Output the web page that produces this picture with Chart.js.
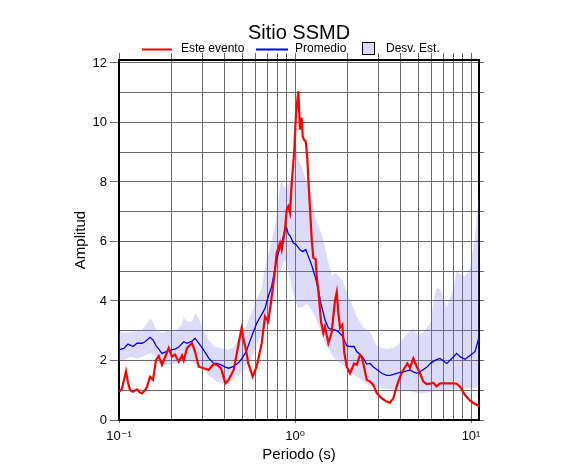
<!DOCTYPE html>
<html>
<head>
<meta charset="utf-8">
<title>Sitio SSMD</title>
<script src="https://cdn.jsdelivr.net/npm/chart.js@4.4.1/dist/chart.umd.min.js"></script>
<style>
    html, body { margin: 0; padding: 0; background: #fff; }
    canvas { display: block; }
</style>
</head>
<body>
<canvas id="chart" width="586" height="475" style="width:586px;height:475px"></canvas>
<script>
/* ============================================
   Sitio SSMD — spectral ratio vs period
   ============================================ */

// Este evento (red)
const redPeriod = [
    0.100, 0.104, 0.1068, 0.1096, 0.1125, 0.1156, 0.1201, 0.1266, 0.1317, 0.1351,
    0.1406, 0.1443, 0.1501, 0.1560, 0.1623, 0.1681, 0.1754, 0.1826, 0.1916, 0.2000,
    0.2081, 0.2184, 0.2280, 0.2331, 0.2434, 0.2599, 0.2704, 0.2837, 0.3030, 0.3233,
    0.3452, 0.3604, 0.3798, 0.4018, 0.4201, 0.4484, 0.4787, 0.4967, 0.5111, 0.5288,
    0.5429, 0.5747, 0.6059, 0.6467, 0.6754, 0.7051, 0.7374, 0.7698, 0.7872, 0.8218,
    0.8403, 0.8773, 0.8972, 0.9161, 0.9367, 0.9578, 0.9780, 0.9909, 1.0132, 1.0441,
    1.0676, 1.0916, 1.1060, 1.1250, 1.1502, 1.1747, 1.1903, 1.2168, 1.2444, 1.2706,
    1.3110, 1.3283, 1.3564, 1.4055, 1.4484, 1.4807, 1.5461, 1.6159, 1.688, 1.7261,
    1.7630, 1.802, 1.8573, 1.9066, 1.9675, 2.054, 2.165, 2.2416, 2.341, 2.393,
    2.443, 2.557, 2.668, 2.787, 2.913, 3.111, 3.317, 3.466, 3.619, 3.780,
    3.95, 4.125, 4.346, 4.502, 4.701, 4.910, 5.131, 5.358, 5.596, 5.925,
    6.105, 6.376, 6.666, 7.275, 7.934, 8.287, 8.66, 9.245, 9.87, 10.54,
    11.10
];
const redAmp = [
    0.95, 1.05, 1.35, 1.63, 1.25, 1.0, 0.95, 1.03, 0.92, 0.9,
    1.0, 1.12, 1.45, 1.35, 2.02, 2.15, 1.85, 2.1, 2.42, 2.13,
    2.2, 1.96, 2.17, 2.0, 2.42, 2.58, 2.3, 1.79, 1.74, 1.68,
    1.88, 1.85, 1.74, 1.23, 1.35, 1.68, 2.58, 3.08, 2.7, 2.3,
    1.9, 1.46, 1.8, 2.58, 3.48, 3.3, 4.15, 5.05, 5.61, 5.95,
    5.72, 6.4, 7.07, 7.18, 6.97, 7.96, 8.64, 9.08, 10.3, 11.05,
    9.76, 10.16, 9.53, 9.42, 9.37, 8.8, 8.1, 7.1, 6.06, 5.45,
    5.4, 4.8, 4.37, 3.3, 2.92, 3.14, 2.58, 2.95, 4.04, 4.3,
    3.6, 3.1, 3.2, 2.24, 1.79, 1.57, 1.9, 1.85, 2.19, 2.13,
    1.9, 1.35, 1.29, 1.18, 0.9, 0.73, 0.62, 0.58, 0.73, 1.12,
    1.46, 1.68, 1.9, 1.75, 2.07, 1.8, 1.57, 1.29, 1.21, 1.23,
    1.25, 1.13, 1.23, 1.23, 1.23, 1.22, 1.12, 0.84, 0.65, 0.54,
    0.47
];

// Promedio (blue)
const meanPeriod = [
    0.100, 0.1068, 0.1125, 0.1201, 0.1266, 0.1351, 0.1406, 0.1501, 0.1560, 0.1623,
    0.1681, 0.1754, 0.1826, 0.1916, 0.2081, 0.2184, 0.2331, 0.2434, 0.2599, 0.2704,
    0.2837, 0.3030, 0.3233, 0.3452, 0.3604, 0.3798, 0.4018, 0.4201, 0.4484, 0.4787,
    0.4967, 0.5288, 0.5429, 0.5747, 0.6059, 0.6467, 0.6754, 0.7051, 0.7374, 0.7698,
    0.7872, 0.8218, 0.8403, 0.8773, 0.8972, 0.9161, 0.9367, 0.9780, 1.0132, 1.0676,
    1.1060, 1.1502, 1.1903, 1.2444, 1.3110, 1.3564, 1.4055, 1.4484, 1.4807, 1.5461,
    1.6159, 1.688, 1.7630, 1.8573, 1.9675, 2.054, 2.165, 2.2416, 2.341, 2.443,
    2.557, 2.668, 2.787, 2.913, 3.111, 3.317, 3.466, 3.619, 3.780, 3.95,
    4.125, 4.346, 4.502, 4.701, 4.910, 5.131, 5.358, 5.596, 5.925, 6.105,
    6.376, 6.666, 7.275, 7.934, 8.287, 8.66, 9.245, 9.87, 10.54, 11.10
];
const meanAmp = [
    2.36, 2.41, 2.55, 2.47, 2.58, 2.58, 2.63, 2.78, 2.69, 2.5,
    2.38, 2.24, 2.28, 2.34, 2.38, 2.45, 2.63, 2.58, 2.65, 2.75,
    2.58, 2.35, 2.08, 1.9, 1.9, 1.85, 1.78, 1.74, 1.8, 1.93,
    2.05, 2.3, 2.5, 2.9, 3.25, 3.55, 3.75, 4.15, 4.5, 5.1,
    5.4, 5.8, 5.95, 6.4, 6.45, 6.25, 6.2, 5.95, 5.9, 5.72,
    5.66, 5.73, 5.5, 5.2, 4.75, 4.37, 3.9, 3.6, 3.36, 3.1,
    3.03, 3.03, 2.97, 2.82, 2.5, 2.47, 2.47, 2.3, 2.2, 2.08,
    1.88, 1.9, 1.78, 1.7, 1.57, 1.5, 1.5, 1.53, 1.57, 1.6,
    1.62, 1.66, 1.68, 1.62, 1.57, 1.62, 1.7, 1.77, 1.92, 1.97,
    2.03, 2.07, 1.9, 2.12, 2.24, 2.13, 2.04, 2.17, 2.3, 2.78
];

// Desv. Est. band: upper edge
const upPeriod = [
    0.100, 0.1068, 0.1201, 0.1351, 0.1443, 0.1501, 0.1560, 0.1623, 0.1754, 0.1916,
    0.2081, 0.2280, 0.2331, 0.2434, 0.2599, 0.2704, 0.2837, 0.3030, 0.3233, 0.3452,
    0.3798, 0.4201, 0.4484, 0.4787, 0.5111, 0.5288, 0.5747, 0.6059, 0.6467, 0.6754,
    0.7374, 0.7872, 0.8218, 0.8403, 0.8773, 0.9161, 0.9367, 0.9780, 1.0132, 1.0441,
    1.0916, 1.1502, 1.1903, 1.2444, 1.3110, 1.3564, 1.4055, 1.4484, 1.4807, 1.5461,
    1.6159, 1.688, 1.7630, 1.8573, 1.9675, 2.054, 2.2416, 2.443, 2.668, 2.913,
    3.111, 3.317, 3.619, 3.95, 4.125, 4.502, 4.701, 4.910, 5.131, 5.596,
    5.925, 6.105, 6.376, 6.666, 7.275, 7.934, 8.287, 8.66, 9.245, 9.87,
    10.54, 11.10
];
const upAmp = [
    2.97, 2.92, 2.97, 3.03, 3.25, 3.42, 3.3, 3.05, 2.92, 3.03,
    2.97, 3.2, 3.45, 3.3, 3.3, 3.6, 3.42, 3.03, 2.69, 2.47,
    2.41, 2.36, 2.47, 2.75, 3.0, 3.14, 3.7, 4.1, 4.4, 5.16,
    6.0, 6.84, 7.9, 8.0, 7.8, 7.95, 8.02, 8.2, 9.08, 8.75,
    8.52, 8.1, 7.96, 7.51, 6.75, 6.5, 6.3, 6.06, 5.8, 5.3,
    4.85, 4.94, 4.85, 4.7, 4.3, 4.04, 3.48, 3.1, 2.95, 2.5,
    2.42, 2.38, 2.42, 2.6, 2.75, 3.0, 3.08, 2.9, 2.85, 3.08,
    3.3, 4.0, 4.43, 4.4, 3.8, 4.4, 5.05, 4.9, 4.82, 5.1,
    6.2, 7.6
];

// Desv. Est. band: lower edge
const loPeriod = [
    0.100, 0.1068, 0.1156, 0.1266, 0.1351, 0.1501, 0.1623, 0.1754, 0.1916, 0.2081,
    0.2280, 0.2434, 0.2599, 0.2837, 0.3030, 0.3233, 0.3452, 0.3604, 0.3798, 0.4201,
    0.4484, 0.4787, 0.5111, 0.5429, 0.5747, 0.6059, 0.6467, 0.6754, 0.7051, 0.7374,
    0.7698, 0.7872, 0.8218, 0.8403, 0.8773, 0.9161, 0.9578, 0.9909, 1.0441, 1.1060,
    1.1502, 1.1903, 1.2444, 1.3110, 1.3564, 1.4055, 1.4807, 1.5461, 1.6159, 1.688,
    1.802, 1.9675, 2.054, 2.2416, 2.341, 2.557, 2.787, 3.111, 3.466, 3.95,
    4.502, 5.131, 5.925, 6.666, 7.275, 8.287, 9.87, 11.10
];
const loAmp = [
    2.02, 2.02, 2.13, 2.07, 2.13, 2.24, 2.13, 1.85, 1.85, 1.9,
    1.96, 2.02, 1.96, 1.82, 1.72, 1.5, 1.38, 1.29, 1.24, 1.25,
    1.35, 1.5, 1.65, 1.95, 2.2, 2.5, 2.9, 3.1, 3.4, 3.75,
    4.2, 4.5, 4.95, 5.15, 5.38, 5.05, 4.49, 4.1, 3.76, 3.8,
    3.9, 3.85, 3.7, 3.4, 3.2, 2.95, 2.58, 2.4, 2.2, 2.05,
    1.92, 1.75, 1.6, 1.45, 1.38, 1.2, 1.1, 1.07, 1.04, 1.0,
    0.97, 0.88, 0.95, 0.98, 1.0, 1.05, 1.07, 1.12
];

// axes
const xGridValues = [0.1, 0.2, 0.3, 0.4, 0.5, 0.6, 0.7, 0.8, 0.9, 1, 2, 3, 4, 5, 6, 7, 8, 9, 10];
const xTickValues = [0.1, 1, 10];
const xTickText = ['10⁻¹', '10⁰', '10¹'];
const yGridValues = [0, 1, 2, 3, 4, 5, 6, 7, 8, 9, 10, 11, 12];
const yTickValues = [0, 2, 4, 6, 8, 10, 12];

const FONT = "'Liberation Sans', Arial, Helvetica, 'DejaVu Sans', sans-serif";
const GRID = '#6a6a6a';
const NONE = 'rgba(0,0,0,0)';
const BAND = 'rgba(120,120,235,0.26)';

Chart.defaults.font.family = FONT;
Chart.defaults.color = '#000';

const toPts = (xs, ys) => xs.map((x, i) => ({ x, y: ys[i] }));
const setTicks = vals => scale => { scale.ticks = vals.map(v => ({ value: v })); };

// legend row under the title (symbols placed like the original)
const legendRow = {
    id: 'legendRow',
    afterDraw(chart) {
        const ctx = chart.ctx;
        const [ev, mean, band] = chart.data.datasets;
        const y = 49;
        ctx.save();
        ctx.font = '12px ' + FONT;
        ctx.textBaseline = 'middle';
        ctx.lineWidth = 2;

        ctx.strokeStyle = ev.borderColor;
        ctx.beginPath(); ctx.moveTo(142, y + 0.5); ctx.lineTo(172, y + 0.5); ctx.stroke();
        ctx.fillStyle = '#000';
        ctx.fillText(ev.label, 181, y);

        ctx.strokeStyle = mean.borderColor;
        ctx.beginPath(); ctx.moveTo(256, y + 0.5); ctx.lineTo(288, y + 0.5); ctx.stroke();
        ctx.fillText(mean.label, 295, y);

        ctx.fillStyle = band.backgroundColor;
        ctx.fillRect(362.5, 42.5, 12, 12);
        ctx.lineWidth = 1;
        ctx.strokeStyle = '#000';
        ctx.strokeRect(362.5, 42.5, 12, 12);
        ctx.fillStyle = '#000';
        ctx.fillText(band.label, 386, y);
        ctx.restore();
    }
};

new Chart(document.getElementById('chart'), {
    type: 'line',
    data: {
        datasets: [
            { label: 'Este evento', data: toPts(redPeriod, redAmp), borderColor: '#ff0000', borderWidth: 2.2, pointRadius: 0, fill: false },
            { label: 'Promedio', data: toPts(meanPeriod, meanAmp), borderColor: '#0000ff', borderWidth: 1.3, pointRadius: 0, fill: false },
            { label: 'Desv. Est.', data: toPts(upPeriod, upAmp), borderColor: NONE, borderWidth: 0, backgroundColor: BAND, pointRadius: 0, fill: '+1' },
            { label: 'lower', data: toPts(loPeriod, loAmp), borderColor: NONE, borderWidth: 0, pointRadius: 0, fill: false }
        ]
    },
    options: {
        responsive: false,
        animation: false,
        layout: { padding: 0 },
        elements: { line: { tension: 0 } },
        plugins: {
            legend: { display: false },
            tooltip: { enabled: false },
            title: {
                display: true, text: 'Sitio SSMD', fullSize: false, color: '#000',
                font: { size: 20, weight: 'normal', lineHeight: 1.2 },
                padding: { top: 21.5, bottom: 14.5 }
            }
        },
        scales: {
            x: {
                type: 'logarithmic', position: 'bottom', min: 0.1, max: 11.1,
                afterBuildTicks: setTicks(xGridValues),
                afterFit: s => { s.height = 55; },
                grid: { color: GRID, lineWidth: 1, tickLength: 3, tickColor: c => xTickValues.includes(c.tick.value) ? GRID : NONE },
                border: { display: true, color: '#000', width: 2 },
                ticks: {
                    autoSkip: false, maxRotation: 0, padding: 6, color: '#000', font: { size: 13 },
                    callback: v => { const i = xTickValues.indexOf(v); return i < 0 ? '' : xTickText[i]; }
                },
                title: { display: true, text: 'Periodo (s)', color: '#000', font: { size: 15 }, padding: { top: 0, bottom: 11 } }
            },
            x2: {
                type: 'logarithmic', position: 'top', min: 0.1, max: 11.1,
                afterBuildTicks: setTicks(xGridValues),
                afterFit: s => { s.height = 0; },
                grid: { drawOnChartArea: false, color: GRID, tickLength: 7 },
                border: { display: true, color: '#000', width: 2 },
                ticks: { display: false }
            },
            y: {
                type: 'linear', position: 'left', min: 0, max: 12.1,
                afterBuildTicks: setTicks(yGridValues),
                afterFit: s => { s.width = 119; },
                grid: { color: GRID, lineWidth: 1, tickLength: 9, tickColor: c => yTickValues.includes(c.tick.value) ? GRID : NONE },
                border: { display: true, color: '#000', width: 2 },
                ticks: {
                    autoSkip: false, padding: 3, color: '#000', font: { size: 13 },
                    callback: v => yTickValues.includes(v) ? String(v) : ''
                },
                title: { display: true, text: 'Amplitud', color: '#000', font: { size: 15 }, padding: { top: 71.5, bottom: 0 } }
            },
            y2: {
                type: 'linear', position: 'right', min: 0, max: 12.1,
                afterBuildTicks: setTicks(yGridValues),
                afterFit: s => { s.width = 107; },
                grid: { drawOnChartArea: false, color: GRID, tickLength: 5 },
                border: { display: true, color: '#000', width: 2 },
                ticks: { display: false }
            }
        }
    },
    plugins: [legendRow]
});
</script>
</body>
</html>
